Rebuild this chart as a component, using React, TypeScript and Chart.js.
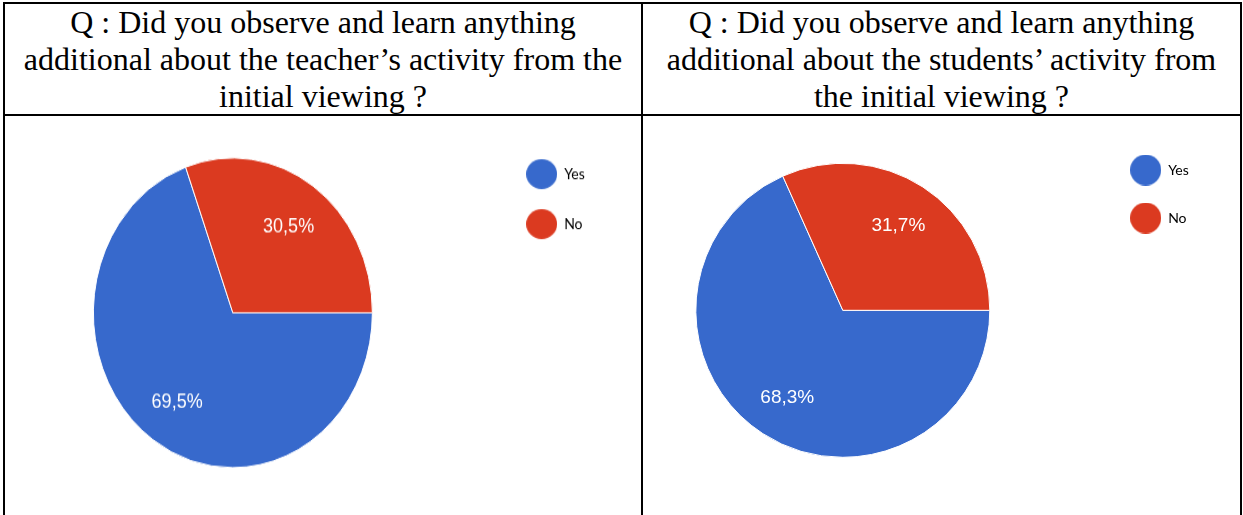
import React, { useEffect, useRef } from "react";
import { Chart, registerables } from "chart.js";

Chart.register(...registerables);

// ---- data ----
const categories = ["Yes", "No"];
const teacherValues = [69.5, 30.5];
const studentValues = [68.3, 31.7];
const sliceColors = ["#3769cc", "#db3a20"];
const teacherTitle = [
  "Q : Did you observe and learn anything",
  "additional about the teacher\u2019s activity from the",
  "initial viewing ?",
];
const studentTitle = [
  "Q : Did you observe and learn anything",
  "additional about the students\u2019 activity from",
  "the initial viewing ?",
];

const fmt = (v: number) => v.toFixed(1).replace(".", ",") + "%";

const sliceLabelPlugin = {
  id: "sliceLabels",
  afterDatasetsDraw(chart: any, _args: any, opts: any) {
    const ctx = chart.ctx;
    const meta = chart.getDatasetMeta(0);
    const data = chart.data.datasets[0].data as number[];
    ctx.save();
    ctx.font = `${opts.size}px "Liberation Sans", Arial, sans-serif`;
    ctx.fillStyle = "#ffffff";
    ctx.textAlign = "center";
    ctx.textBaseline = "middle";
    meta.data.forEach((arc: any, i: number) => {
      const p = arc.getProps(["x", "y", "startAngle", "endAngle", "outerRadius"], true);
      const mid = (p.startAngle + p.endAngle) / 2;
      const r = p.outerRadius * opts.ratio;
      ctx.fillText(fmt(data[i]), p.x + Math.cos(mid) * r, p.y + Math.sin(mid) * r + opts.dy);
    });
    ctx.restore();
  },
};

function makeDot(color: string, w: number, h: number) {
  const c = document.createElement("canvas");
  c.width = w;
  c.height = h;
  const g = c.getContext("2d")!;
  g.fillStyle = color;
  g.beginPath();
  g.ellipse(w / 2, h / 2, w / 2, h / 2, 0, 0, Math.PI * 2);
  g.fill();
  return c;
}

type PieProps = {
  values: number[];
  left: number;
  top: number;
  width: number;
  height: number;
  scaleY: number;
  padding: { left: number; right: number; top: number; bottom: number };
  radius: number;
  legendPadding: number;
  labelSize: number;
  dotH: number;
};

function PieChart(props: PieProps) {
  const ref = useRef<HTMLCanvasElement>(null);
  useEffect(() => {
    const dots = sliceColors.map((c) => makeDot(c, 31, props.dotH));
    const chart = new Chart(ref.current!, {
      type: "pie",
      data: {
        labels: categories,
        datasets: [
          {
            data: props.values,
            backgroundColor: sliceColors,
            borderColor: "#ffffff",
            borderWidth: 1,
          },
        ],
      },
      options: {
        responsive: false,
        animation: false,
        events: [],
        rotation: 90,
        radius: props.radius,
        layout: { padding: props.padding },
        plugins: {
          legend: {
            position: "right",
            align: "start",
            labels: {
              usePointStyle: true,
              pointStyleWidth: 31,
              padding: props.legendPadding,
              color: "#000000",
              font: {
                family: 'Lato, "Liberation Sans", sans-serif',
                size: 14,
              },
              generateLabels: (ch: any) =>
                ch.data.labels.map((l: string, i: number) => ({
                  text: l,
                  fillStyle: sliceColors[i],
                  strokeStyle: sliceColors[i],
                  lineWidth: 0,
                  pointStyle: dots[i],
                  hidden: false,
                  index: i,
                  fontColor: "#000000",
                })),
            },
          },
          tooltip: { enabled: false },
          sliceLabels: { size: props.labelSize, ratio: 0.695, dy: 1.5 },
        } as any,
      } as any,
      plugins: [sliceLabelPlugin as any],
    });
    return () => chart.destroy();
  }, []);
  return (
    <div
      style={{
        position: "absolute",
        left: props.left,
        top: props.top,
        width: props.width,
        height: props.height,
        transform: `scaleY(${props.scaleY})`,
        transformOrigin: "0 0",
      }}
    >
      <canvas
        ref={ref}
        width={props.width}
        height={props.height}
        style={{ width: props.width, height: props.height, display: "block" }}
      />
    </div>
  );
}

const line = (left: number, top: number, width: number, height: number) => (
  <div style={{ position: "absolute", left, top, width, height, background: "#000" }} />
);

function Title({ lines, left, width }: { lines: string[]; left: number; width: number }) {
  return (
    <div
      style={{
        position: "absolute",
        left,
        top: 4,
        width,
        textAlign: "center",
        fontFamily: '"Liberation Serif", "Times New Roman", serif',
        fontSize: 32,
        lineHeight: "normal",
        color: "#000",
      }}
    >
      {lines.map((l, i) => (
        <div key={i} style={{ whiteSpace: "nowrap" }}>
          {l}
        </div>
      ))}
    </div>
  );
}

export default function App() {
  return (
    <div style={{ position: "relative", width: 1243, height: 515, overflow: "hidden", background: "#fff" }}>
      <style>{`body{margin:0;}`}</style>
      <Title lines={teacherTitle} left={5} width={636} />
      <Title lines={studentTitle} left={643} width={597} />
      <PieChart
        values={teacherValues}
        left={-40}
        top={117}
        width={680}
        height={359}
        scaleY={1.11}
        padding={{ left: 10.6, right: 45.2, top: 13.35, bottom: 19.55 }}
        radius={139.5}
        legendPadding={31}
        labelSize={18}
        dotH={27}
      />
      <PieChart
        values={studentValues}
        left={580}
        top={117}
        width={659}
        height={398}
        scaleY={1}
        padding={{ left: 9.5, right: 40.2, top: 12, bottom: 23.4 }}
        radius={147}
        legendPadding={34}
        labelSize={19}
        dotH={31}
      />
      {line(3, 2, 1239, 2)}
      {line(3, 2, 2, 513)}
      {line(1240, 2, 2, 513)}
      {line(641, 2, 2, 513)}
      {line(3, 114, 1239, 2)}
    </div>
  );
}
